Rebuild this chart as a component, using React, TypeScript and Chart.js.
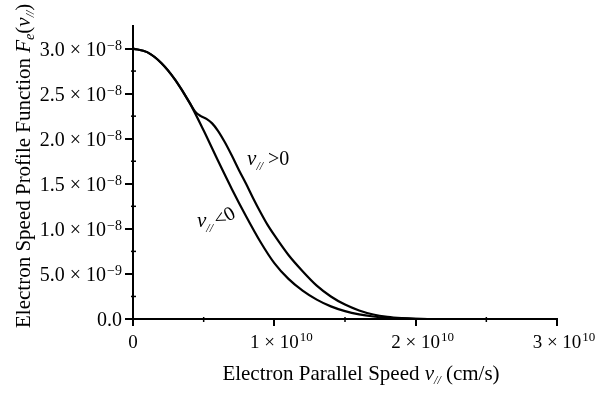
import React, { useEffect, useRef } from "react";
import { Chart, registerables } from "chart.js";

Chart.register(...registerables);

// x values in units of 10^10 cm/s, y values in units of 10^-8
const negSpeed = [0, 0.1, 0.2, 0.3, 0.4, 0.5, 0.6, 0.7, 0.8, 0.9, 1.0, 1.1, 1.2, 1.3, 1.4, 1.5, 1.6, 1.7, 1.8, 1.9, 2.0, 2.2, 3.0];
const negProfile = [3.0, 2.96, 2.84, 2.65, 2.4, 2.09, 1.76, 1.44, 1.14, 0.86, 0.62, 0.445, 0.315, 0.215, 0.14, 0.087, 0.051, 0.028, 0.014, 0.006, 0.002, 0, 0];

const posSpeed = [0, 0.1, 0.2, 0.3, 0.4, 0.44, 0.48, 0.52, 0.56, 0.6, 0.65, 0.7, 0.75, 0.8, 0.85, 0.9, 0.95, 1.0, 1.1, 1.2, 1.3, 1.4, 1.5, 1.6, 1.7, 1.8, 1.9, 2.0, 2.2, 3.0];
const posProfile = [3.0, 2.96, 2.84, 2.65, 2.4, 2.3, 2.25, 2.22, 2.17, 2.09, 1.96, 1.81, 1.65, 1.5, 1.34, 1.19, 1.05, 0.93, 0.71, 0.53, 0.37, 0.25, 0.16, 0.095, 0.05, 0.024, 0.01, 0.003, 0, 0];

const xMajorTicks = [0, 1, 2, 3];
const xMinorTicks = [0.5, 1.5, 2.5];
const xTickMain = ["0", "1 \u00d7 10", "2 \u00d7 10", "3 \u00d7 10"];
const xTickExp = ["", "10", "10", "10"];

const yMajorTicks = [0, 0.5, 1.0, 1.5, 2.0, 2.5, 3.0];
const yMinorTicks = [0.25, 0.75, 1.25, 1.75, 2.25, 2.75];
const yTickMain = ["0.0", "5.0 \u00d7 10", "1.0 \u00d7 10", "1.5 \u00d7 10", "2.0 \u00d7 10", "2.5 \u00d7 10", "3.0 \u00d7 10"];
const yTickExp = ["", "\u22129", "\u22128", "\u22128", "\u22128", "\u22128", "\u22128"];

const xMin = 0;
const xMax = 3;
const yMin = 0;
const yMax = 3.25;

const posLabelAt = { x: 0.807, y: 1.71 };
const negLabelAt = { x: 0.453, y: 1.02 };

const FONT = "'Liberation Serif', 'Times New Roman', serif";

type Piece = { t: string; size: number; italic?: boolean; dy?: number };

function drawPieces(ctx: CanvasRenderingContext2D, pieces: Piece[], x: number, y: number) {
  let cx = x;
  for (const p of pieces) {
    ctx.font = `${p.italic ? "italic " : ""}${p.size}px ${FONT}`;
    ctx.fillText(p.t, cx, y + (p.dy || 0));
    cx += ctx.measureText(p.t).width;
  }
  return cx - x;
}
function measurePieces(ctx: CanvasRenderingContext2D, pieces: Piece[]) {
  let w = 0;
  for (const p of pieces) {
    ctx.font = `${p.italic ? "italic " : ""}${p.size}px ${FONT}`;
    w += ctx.measureText(p.t).width;
  }
  return w;
}

const decorPlugin = {
  id: "decor",
  afterDraw(chart: any) {
    const ctx: CanvasRenderingContext2D = chart.ctx;
    const xs = chart.scales.x;
    const ys = chart.scales.y;
    const area = chart.chartArea;
    ctx.save();
    ctx.fillStyle = "#000";
    ctx.strokeStyle = "#000";
    ctx.textBaseline = "alphabetic";
    ctx.textAlign = "left";

    // minor ticks
    ctx.lineWidth = 1.5;
    for (const v of yMinorTicks) {
      const py = ys.getPixelForValue(v);
      ctx.beginPath();
      ctx.moveTo(area.left - 2, py);
      ctx.lineTo(area.left + 3, py);
      ctx.stroke();
    }
    for (const v of xMinorTicks) {
      const px = xs.getPixelForValue(v);
      ctx.beginPath();
      ctx.moveTo(px, area.bottom + 3);
      ctx.lineTo(px, area.bottom - 2);
      ctx.stroke();
    }

    // y tick labels
    yMajorTicks.forEach((v, i) => {
      const py = ys.getPixelForValue(v);
      const right = area.left - 11;
      ctx.font = `14px ${FONT}`;
      const ew = yTickExp[i] ? ctx.measureText(yTickExp[i]).width + 1 : 0;
      if (yTickExp[i]) ctx.fillText(yTickExp[i], right - ew + 1, py + 1);
      ctx.font = `20px ${FONT}`;
      const mw = ctx.measureText(yTickMain[i]).width;
      ctx.fillText(yTickMain[i], right - ew - mw, py + 7);
    });

    // x tick labels
    xMajorTicks.forEach((v, i) => {
      const px = xs.getPixelForValue(v);
      ctx.font = `19px ${FONT}`;
      const mw = ctx.measureText(xTickMain[i]).width;
      const base = area.bottom + 29;
      ctx.fillText(xTickMain[i], px - mw / 2, base);
      if (xTickExp[i]) {
        ctx.font = `13px ${FONT}`;
        ctx.fillText(xTickExp[i], px + mw / 2 + 1, base - 7);
      }
    });

    // x axis title
    const xTitle: Piece[] = [
      { t: "Electron Parallel Speed ", size: 21 },
      { t: "v", size: 21, italic: true },
      { t: "//", size: 12, italic: true, dy: 4 },
      { t: " (cm/s)", size: 21 },
    ];
    const xtw = measurePieces(ctx, xTitle);
    drawPieces(ctx, xTitle, (area.left + area.right) / 2 - xtw / 2 + 16, area.bottom + 61);

    // y axis title
    const yTitle: Piece[] = [
      { t: "Electron Speed Profile Function ", size: 21 },
      { t: "F", size: 21, italic: true },
      { t: "e", size: 14, italic: true, dy: 4 },
      { t: "(", size: 21 },
      { t: "v", size: 21, italic: true },
      { t: "//", size: 12, italic: true, dy: 4 },
      { t: ")", size: 21 },
    ];
    ctx.save();
    ctx.translate(30, 328);
    ctx.rotate(-Math.PI / 2);
    drawPieces(ctx, yTitle, 0, 0);
    ctx.restore();

    // curve labels
    const pl = { x: xs.getPixelForValue(posLabelAt.x), y: ys.getPixelForValue(posLabelAt.y) };
    drawPieces(ctx, [
      { t: "v", size: 21, italic: true },
      { t: "//", size: 12, italic: true, dy: 5 },
      { t: " >0", size: 20 },
    ], pl.x, pl.y);

    const nl = { x: xs.getPixelForValue(negLabelAt.x), y: ys.getPixelForValue(negLabelAt.y) };
    const w = drawPieces(ctx, [
      { t: "v", size: 21, italic: true },
      { t: "//", size: 12, italic: true, dy: 5 },
      { t: " ", size: 20 },
    ], nl.x, nl.y);
    ctx.save();
    ctx.translate(nl.x + w, nl.y);
    ctx.rotate(-0.5);
    drawPieces(ctx, [{ t: "<0", size: 20 }], 0, 0);
    ctx.restore();

    ctx.restore();
  },
};

export default function App() {
  const ref = useRef<HTMLCanvasElement | null>(null);
  useEffect(() => {
    document.body.style.margin = "0";
    const canvas = ref.current;
    if (!canvas) return;
    const chart = new Chart(canvas, {
      type: "line",
      data: {
        datasets: [
          {
            label: "v > 0",
            data: posSpeed.map((x, i) => ({ x, y: posProfile[i] })),
            borderColor: "#000",
            borderWidth: 2.2,
            pointRadius: 0,
            fill: false,
            cubicInterpolationMode: "monotone",
          },
          {
            label: "v < 0",
            data: negSpeed.map((x, i) => ({ x, y: negProfile[i] })),
            borderColor: "#000",
            borderWidth: 2.2,
            pointRadius: 0,
            fill: false,
            cubicInterpolationMode: "monotone",
          },
        ],
      },
      options: {
        animation: false,
        responsive: false,
        devicePixelRatio: 1,
        layout: { padding: { left: 0, right: 50, top: 26, bottom: 0 } },
        plugins: { legend: { display: false }, tooltip: { enabled: false } },
        scales: {
          x: {
            type: "linear",
            min: xMin,
            max: xMax,
            afterBuildTicks: (s: any) => {
              s.ticks = xMajorTicks.map((v) => ({ value: v }));
            },
            afterFit: (s: any) => {
              s.height = 74;
            },
            ticks: { display: false },
            grid: { drawOnChartArea: false, drawTicks: true, tickLength: 7, color: "#000", lineWidth: 2 },
            border: { display: true, color: "#000", width: 2 },
          },
          y: {
            type: "linear",
            min: yMin,
            max: yMax,
            afterBuildTicks: (s: any) => {
              s.ticks = yMajorTicks.map((v) => ({ value: v }));
            },
            afterFit: (s: any) => {
              s.width = 133;
            },
            ticks: { display: false },
            grid: { drawOnChartArea: false, drawTicks: true, tickLength: 8, color: "#000", lineWidth: 2 },
            border: { display: true, color: "#000", width: 2 },
          },
        },
      },
      plugins: [decorPlugin],
    } as any);
    return () => chart.destroy();
  }, []);
  return (
    <div style={{ width: 607, height: 393, background: "#fff" }}>
      <canvas ref={ref} width={607} height={393} />
    </div>
  );
}
